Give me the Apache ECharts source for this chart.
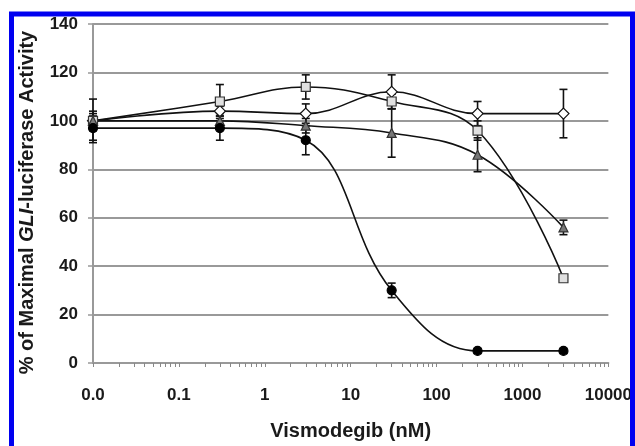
<!DOCTYPE html>
<html>
<head>
<meta charset="utf-8">
<script src="https://cdn.jsdelivr.net/npm/echarts@6/dist/echarts.min.js"></script>
<style>html,body{margin:0;padding:0;background:#fff}#c{width:635px;height:446px}</style>
</head>
<body>
<div id="c"></div>
<script>
const doses = [0.01, 0.3, 3, 30, 300, 3000];
const tickLabels = ['0.0', '0.1', '1', '10', '100', '1000', '10000'];
const circleValues = [97, 97, 92, 30, 5, 5];
const circleErrors = [5, 5, 6, 3, 1, 1];
const squareValues = [100, 108, 114, 108, 96, 35];
const squareErrors = [4, 7, 5, 3, 4, 1];
const triangleValues = [100, 100, 98, 95, 86, 56];
const triangleErrors = [3, 3, 3, 10, 7, 3];
const diamondValues = [100, 104, 103, 112, 103, 103];
const diamondErrors = [9, 2, 4, 7, 5, 10];

const chart = echarts.init(document.getElementById('c'), null, {renderer: 'canvas'});
const FONT = '"Liberation Sans", Arial, sans-serif';

function pts(vals) { return doses.map((d, i) => [d, vals[i]]); }
function errData(vals, errs) { return doses.map((d, i) => [d, vals[i] - errs[i], vals[i] + errs[i]]); }

function errSeries(vals, errs) {
  return {
    type: 'custom',
    z: 3,
    silent: true,
    data: errData(vals, errs),
    renderItem: function (params, api) {
      const lo = api.coord([api.value(0), api.value(1)]);
      const hi = api.coord([api.value(0), api.value(2)]);
      const w = 4;
      const st = {stroke: '#111', lineWidth: 1.6};
      return {
        type: 'group',
        children: [
          {type: 'line', shape: {x1: lo[0], y1: lo[1], x2: hi[0], y2: hi[1]}, style: st},
          {type: 'line', shape: {x1: lo[0] - w, y1: lo[1], x2: lo[0] + w, y2: lo[1]}, style: st},
          {type: 'line', shape: {x1: hi[0] - w, y1: hi[1], x2: hi[0] + w, y2: hi[1]}, style: st}
        ]
      };
    }
  };
}

function lineSeries(vals, symbol, size, fill, border) {
  return {
    type: 'line',
    data: pts(vals),
    smooth: 0.4,
    symbol: symbol,
    symbolSize: size,
    showAllSymbol: true,
    z: 5,
    lineStyle: {color: '#111', width: 1.6},
    itemStyle: {color: fill, borderColor: border, borderWidth: 1.2, opacity: 1},
    emphasis: {disabled: true}
  };
}

const option = {
  animation: false,
  backgroundColor: '#fff',
  grid: {left: 93, right: 26, top: 24, bottom: 79, containLabel: false},
  xAxis: {
    type: 'log',
    logBase: 10,
    min: 0.01,
    max: 10000,
    name: 'Vismodegib (nM)',
    nameLocation: 'middle',
    nameGap: 58,
    nameTextStyle: {fontFamily: FONT, fontWeight: 'bold', fontSize: 20, color: '#1a1a1a'},
    axisLine: {show: true, lineStyle: {color: '#999', width: 2}},
    axisTick: {show: true, length: 4, lineStyle: {color: '#888'}},
    minorTick: {show: true, splitNumber: 9, length: 4, lineStyle: {color: '#888'}},
    splitLine: {show: false},
    axisLabel: {
      fontFamily: FONT, fontWeight: 'bold', fontSize: 17, color: '#1a1a1a', margin: 24,
      formatter: function (v) { return tickLabels[Math.round(Math.log10(v)) + 2]; }
    }
  },
  yAxis: {
    type: 'value',
    min: 0,
    max: 140,
    interval: 20,
    name: '{a|% of Maximal }{b|GLI}{a|-luciferase Activity}',
    nameLocation: 'middle',
    nameGap: 56,
    nameRotate: 90,
    nameTextStyle: {
      padding: [0, 18, 0, 0],
      rich: {
        a: {fontFamily: FONT, fontWeight: 'bold', fontSize: 20, color: '#1a1a1a'},
        b: {fontFamily: FONT, fontWeight: 'bold', fontStyle: 'italic', fontSize: 20, color: '#1a1a1a'}
      }
    },
    axisLine: {show: true, lineStyle: {color: '#999', width: 2}},
    axisTick: {show: true, length: 5, lineStyle: {color: '#999', width: 1.5}},
    splitLine: {show: true, lineStyle: {color: '#999', width: 2}},
    axisLabel: {fontFamily: FONT, fontWeight: 'bold', fontSize: 17, color: '#1a1a1a', margin: 15}
  },
  graphic: [{
    type: 'rect',
    shape: {x: 11.5, y: 14, width: 621, height: 500},
    style: {fill: 'none', stroke: '#0000f0', lineWidth: 5},
    z: 100, silent: true
  }],
  series: [
    errSeries(diamondValues, diamondErrors),
    errSeries(squareValues, squareErrors),
    errSeries(triangleValues, triangleErrors),
    errSeries(circleValues, circleErrors),
    lineSeries(diamondValues, 'diamond', 11, '#fff', '#111'),
    lineSeries(squareValues, 'rect', 9, '#e0e0e0', '#333'),
    lineSeries(triangleValues, 'triangle', 9, '#777', '#333'),
    lineSeries(circleValues, 'circle', 9, '#000', '#000')
  ]
};
chart.setOption(option);
</script>
</body>
</html>
